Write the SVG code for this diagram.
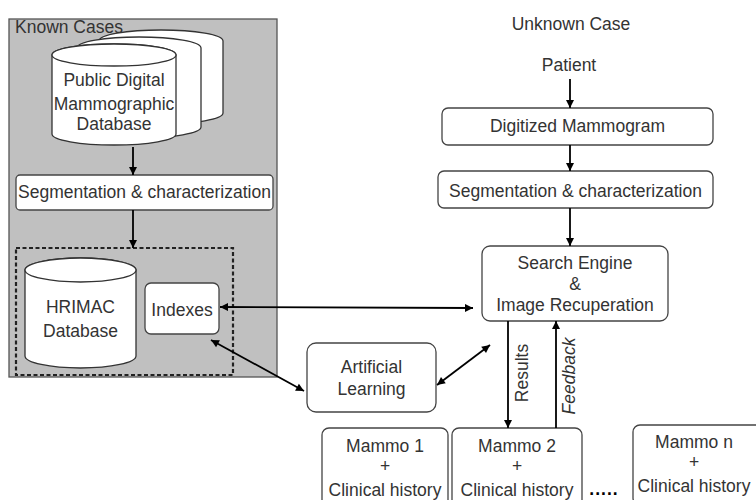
<svg xmlns="http://www.w3.org/2000/svg" width="756" height="500" viewBox="0 0 756 500">
<defs>
<marker id="ah" viewBox="0 0 10 10" refX="10" refY="5" markerWidth="9" markerHeight="8" markerUnits="userSpaceOnUse" orient="auto-start-reverse">
<path d="M0,0 L10,5 L0,10 z" fill="#000"/>
</marker>
<style>
text{font-family:"Liberation Sans",Arial,sans-serif;font-size:17.5px;fill:#333;text-anchor:middle}
.box{fill:#fff;stroke:#444;stroke-width:1.3}
.cyl{fill:#fff;stroke:#333;stroke-width:1.3}
.arr{fill:none;stroke:#000;stroke-width:1.8}
</style>
</defs>
<rect width="756" height="500" fill="#fff"/>

<g id="known-cases">
<rect x="9" y="19" width="268" height="358" fill="#c0c0c0" stroke="#555" stroke-width="1.3"/>
<text x="15" y="33" style="text-anchor:start">Known Cases</text>
</g>

<g id="public-db">
<path class="cyl" d="M99,41 A62,11 0 0 1 223,41 L223,113 A62,11 0 0 1 99,113 Z"/>
<path class="cyl" d="M77,48 A62,11 0 0 1 201,48 L201,127 A62,11 0 0 1 77,127 Z"/>
<path class="cyl" d="M52,55 A62,11 0 0 1 176,55 L176,134 A62,11 0 0 1 52,134 Z"/>
<ellipse class="cyl" cx="114" cy="55" rx="62" ry="11"/>
<text x="114" y="86">Public Digital</text>
<text x="114" y="110">Mammographic</text>
<text x="114" y="130">Database</text>
</g>

<g id="seg-left">
<rect class="box" x="16" y="175" width="257" height="35" rx="4"/>
<text x="144.5" y="198">Segmentation &amp; characterization</text>
</g>

<g id="hrimac-group">
<rect x="16" y="248" width="217" height="127" fill="none" stroke="#222" stroke-width="2.2" stroke-dasharray="4 2.5"/>
</g>

<g id="hrimac-db">
<path class="cyl" d="M25,270 A55.5,12 0 0 1 136,270 L136,356 A55.5,12 0 0 1 25,356 Z"/>
<ellipse class="cyl" cx="80.5" cy="270" rx="55.5" ry="12"/>
<text x="80.5" y="313">HRIMAC</text>
<text x="80.5" y="337">Database</text>
</g>

<g id="indexes">
<rect class="box" x="145" y="283" width="74" height="51" rx="6"/>
<text x="182" y="316">Indexes</text>
</g>

<g id="unknown-case">
<text x="571" y="30">Unknown Case</text>
</g>

<g id="patient">
<text x="569" y="71">Patient</text>
</g>

<g id="digitized">
<rect class="box" x="442" y="108" width="271" height="37" rx="6"/>
<text x="577.5" y="132">Digitized Mammogram</text>
</g>

<g id="seg-right">
<rect class="box" x="438" y="171" width="275" height="37" rx="6"/>
<text x="575.5" y="197">Segmentation &amp; characterization</text>
</g>

<g id="search-engine">
<rect class="box" x="482" y="246" width="186" height="75" rx="8"/>
<text x="575" y="269">Search Engine</text>
<text x="575" y="290">&amp;</text>
<text x="575" y="311">Image Recuperation</text>
</g>

<g id="artificial-learning">
<rect class="box" x="307" y="343" width="129" height="69" rx="9"/>
<text x="371.5" y="373">Artificial</text>
<text x="371.5" y="395">Learning</text>
</g>

<g id="mammo1">
<rect class="box" x="322" y="428" width="126" height="80" rx="7"/>
<text x="385" y="452">Mammo 1</text>
<text x="385" y="472">+</text>
<text x="385" y="496">Clinical history</text>
</g>

<g id="mammo2">
<rect class="box" x="452" y="428" width="130" height="80" rx="7"/>
<text x="517" y="452">Mammo 2</text>
<text x="517" y="472">+</text>
<text x="517" y="496">Clinical history</text>
</g>

<g id="ellipsis">
<text x="604" y="495" style="font-weight:bold;fill:#000;letter-spacing:1px">.....</text>
</g>

<g id="mammon">
<rect class="box" x="633" y="425" width="130" height="80" rx="7"/>
<text x="694" y="448">Mammo n</text>
<text x="694" y="468">+</text>
<text x="694" y="492">Clinical history</text>
</g>

<g id="connectors">
<line class="arr" x1="133" y1="147" x2="133" y2="175" marker-end="url(#ah)"/>
<line class="arr" x1="133" y1="210" x2="133" y2="248" marker-end="url(#ah)"/>
<line class="arr" x1="570" y1="79" x2="570" y2="108" marker-end="url(#ah)"/>
<line class="arr" x1="570" y1="145" x2="570" y2="171" marker-end="url(#ah)"/>
<line class="arr" x1="570" y1="208" x2="570" y2="246" marker-end="url(#ah)"/>
<line class="arr" x1="220" y1="307" x2="473" y2="308" marker-start="url(#ah)" marker-end="url(#ah)"/>
<line class="arr" x1="211" y1="340" x2="304" y2="391" marker-start="url(#ah)" marker-end="url(#ah)"/>
<line class="arr" x1="437" y1="385" x2="490" y2="345" marker-start="url(#ah)" marker-end="url(#ah)"/>
<line class="arr" x1="508" y1="321" x2="508" y2="428" marker-end="url(#ah)"/>
<line class="arr" x1="556" y1="428" x2="556" y2="321" marker-end="url(#ah)"/>
<text transform="translate(528,373) rotate(-90)">Results</text>
<text transform="translate(575,376) rotate(-90)" style="font-style:italic">Feedback</text>
</g>
</svg>
